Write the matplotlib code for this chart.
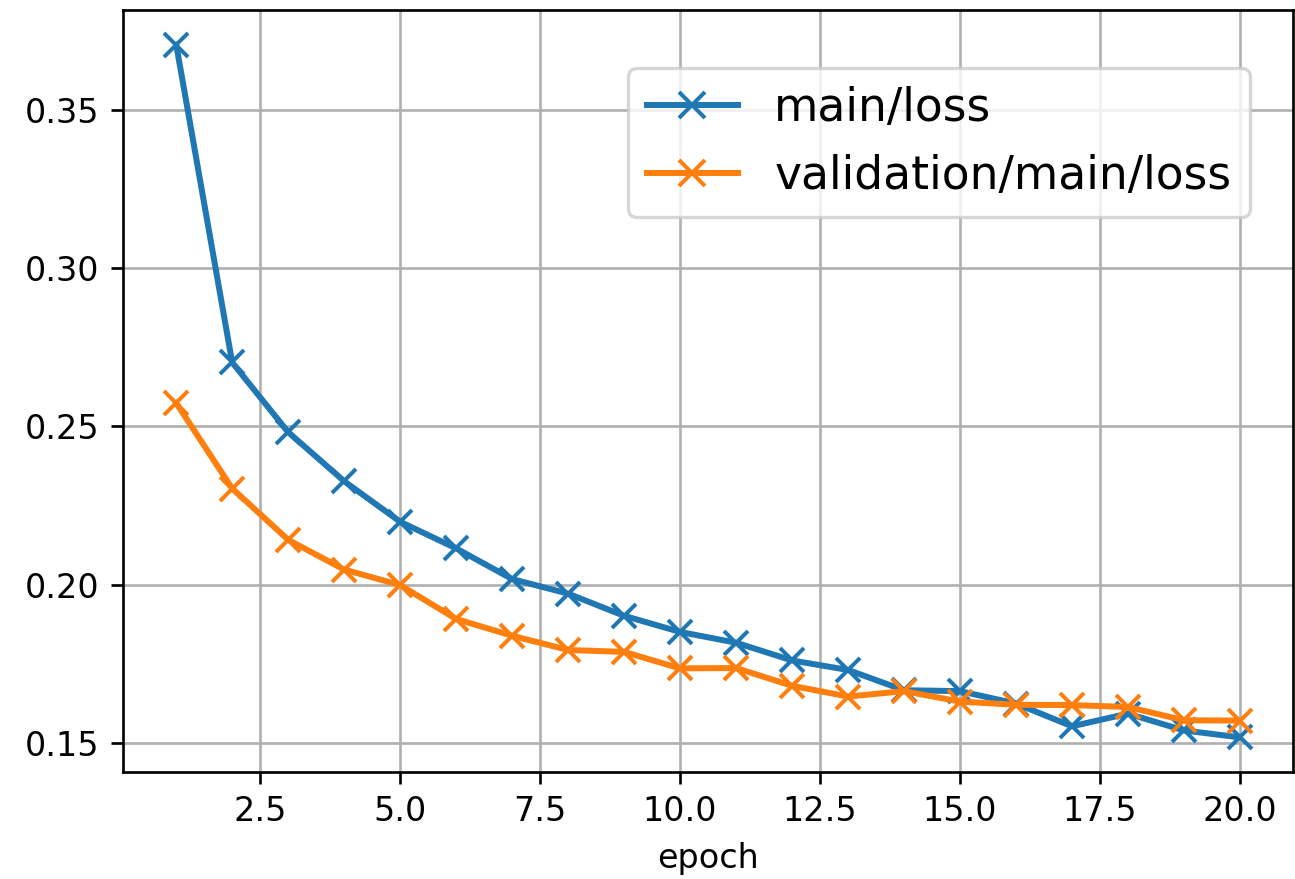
import matplotlib
matplotlib.use('Agg')
import matplotlib.pyplot as plt

epoch = list(range(1, 21))
main_loss = [0.3706, 0.2702, 0.2482, 0.2327, 0.2199, 0.2115, 0.2018, 0.1972, 0.1902,
             0.1851, 0.1817, 0.1761, 0.1731, 0.1667, 0.1664, 0.1625, 0.1553, 0.1593,
             0.1540, 0.1518]
val_loss = [0.2574, 0.2304, 0.2142, 0.2048, 0.1999, 0.1892, 0.1839, 0.1794, 0.1788,
            0.1736, 0.1737, 0.1681, 0.1647, 0.1664, 0.1631, 0.1621, 0.1620, 0.1614,
            0.1572, 0.1571]

fig = plt.figure(figsize=(1295 / 240, 879 / 240), dpi=240)
ax = fig.add_axes([0.095, 0.1217, 0.9035, 0.867])
ax.plot(epoch, main_loss, marker='x', lw=1.8, ms=7, mew=1.2, label='main/loss')
ax.plot(epoch, val_loss, marker='x', lw=1.8, ms=7, mew=1.2, label='validation/main/loss')
ax.set_xlabel('epoch')
ax.grid()
ax.legend(loc='upper right', bbox_to_anchor=(0.963, 0.924), borderaxespad=0,
          fontsize=13.7, markerscale=1.15)

fig.savefig('out.png', dpi=240)
